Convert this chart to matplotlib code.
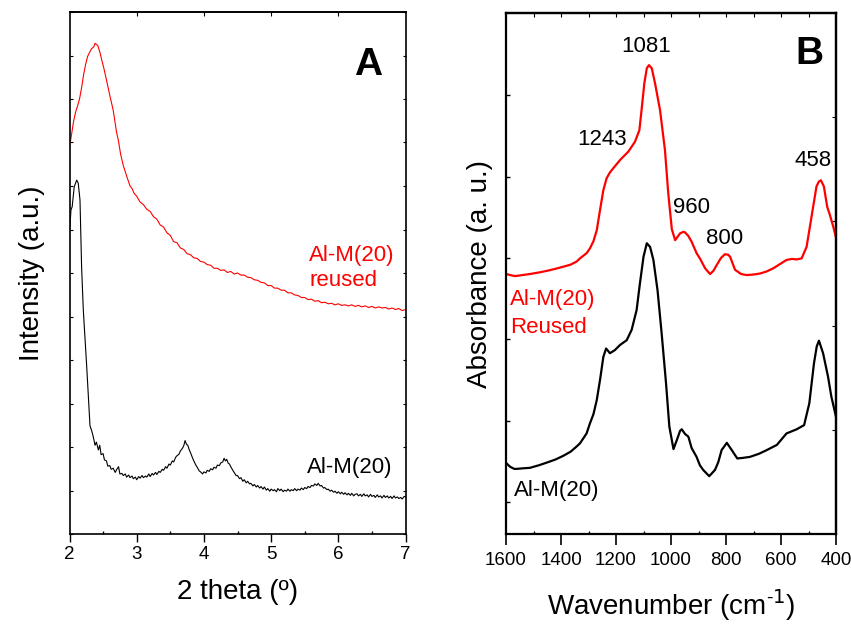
import matplotlib
matplotlib.use("Agg")
import matplotlib.pyplot as plt
from matplotlib.ticker import MultipleLocator, FixedLocator, NullFormatter

plt.rcParams["font.family"] = ["Liberation Sans", "DejaVu Sans"]

# ---- panel A: low-angle XRD (intensity in arbitrary units) ----
xrd_2theta_reused = [2.0, 2.03, 2.06, 2.09, 2.12, 2.15, 2.18, 2.21, 2.24, 2.27, 2.30, 2.33, 2.36,
                     2.38, 2.40, 2.42, 2.45, 2.48, 2.51, 2.55, 2.60, 2.65, 2.70, 2.73, 2.76,
                     2.80, 2.83, 2.86, 2.90, 2.93, 2.96, 3.00, 3.05, 3.10, 3.15, 3.20, 3.25,
                     3.30, 3.35, 3.40, 3.45, 3.50, 3.55, 3.60, 3.65, 3.70, 3.75, 3.80, 3.85,
                     3.90, 3.95, 4.00, 4.05, 4.10, 4.15, 4.20, 4.25, 4.30, 4.35, 4.40, 4.45,
                     4.50, 4.55, 4.60, 4.65, 4.70, 4.75, 4.80, 4.85, 4.90, 4.95, 5.00, 5.05,
                     5.10, 5.15, 5.20, 5.25, 5.30, 5.35, 5.40, 5.45, 5.50, 5.55, 5.60, 5.65,
                     5.70, 5.75, 5.80, 5.85, 5.90, 5.95, 6.00, 6.05, 6.10, 6.15, 6.20, 6.25,
                     6.30, 6.35, 6.40, 6.45, 6.50, 6.55, 6.60, 6.65, 6.70, 6.75, 6.80, 6.85,
                     6.90, 6.95, 7.00]
xrd_int_reused = [74.1, 76.5, 79.0, 80.8, 82.0, 83.4, 85.5, 88.0, 90.0, 91.5, 92.3, 93.0, 93.3,
                  94.0, 93.8, 93.6, 92.4, 90.8, 89.3, 87.0, 84.0, 81.2, 77.0, 75.2, 72.8,
                  70.6, 69.4, 68.2, 66.7, 66.2, 65.3, 64.7, 63.6, 63.1, 62.2, 61.8, 60.8,
                  60.3, 59.2, 58.8, 57.7, 57.2, 56.0, 55.8, 54.8, 54.5, 53.7, 53.5, 52.9,
                  52.8, 52.2, 52.1, 51.6, 51.5, 50.9, 50.9, 50.5, 50.6, 50.1, 50.3, 49.8,
                  50.0, 49.6, 49.6, 49.2, 49.1, 48.7, 48.6, 48.2, 48.1, 47.6, 47.6, 47.1,
                  47.1, 46.7, 46.7, 46.2, 46.2, 45.8, 45.7, 45.3, 45.3, 44.9, 45.0, 44.6,
                  44.7, 44.3, 44.4, 44.1, 44.2, 43.9, 44.1, 43.8, 43.9, 43.7, 43.9, 43.6,
                  43.8, 43.5, 43.7, 43.4, 43.6, 43.3, 43.5, 43.3, 43.4, 43.1, 43.3, 43.0,
                  43.2, 42.8, 43.0]

xrd_2theta_fresh = [2.0, 2.022, 2.04, 2.07, 2.107, 2.13, 2.156, 2.18, 2.205, 2.256, 2.305, 2.33,
                    2.354, 2.38, 2.40, 2.43, 2.45, 2.47, 2.50, 2.52, 2.55, 2.57, 2.60, 2.62,
                    2.65, 2.68, 2.70, 2.73, 2.75, 2.78, 2.80, 2.83, 2.85, 2.88, 2.90, 2.93,
                    2.95, 2.98, 3.00, 3.03, 3.05, 3.08, 3.10, 3.13, 3.15, 3.18, 3.20, 3.23,
                    3.25, 3.28, 3.30, 3.33, 3.35, 3.38, 3.40, 3.43, 3.45, 3.48, 3.50, 3.53,
                    3.55, 3.58, 3.60, 3.63, 3.65, 3.68, 3.70, 3.72, 3.74, 3.76, 3.78, 3.80,
                    3.83, 3.85, 3.88, 3.90, 3.93, 3.95, 3.98, 4.00, 4.03, 4.05, 4.08, 4.10,
                    4.13, 4.15, 4.18, 4.20, 4.23, 4.25, 4.28, 4.30, 4.32, 4.34, 4.36, 4.38,
                    4.40, 4.43, 4.45, 4.48, 4.50, 4.53, 4.55, 4.58, 4.60, 4.63, 4.65, 4.68,
                    4.70, 4.73, 4.75, 4.78, 4.80, 4.83, 4.85, 4.88, 4.90, 4.93, 4.95, 4.98,
                    5.00, 5.03, 5.05, 5.08, 5.10, 5.13, 5.15, 5.18, 5.20, 5.23, 5.25, 5.28,
                    5.30, 5.33, 5.35, 5.38, 5.40, 5.43, 5.45, 5.48, 5.50, 5.53, 5.55, 5.58,
                    5.60, 5.63, 5.65, 5.68, 5.70, 5.73, 5.75, 5.78, 5.80, 5.83, 5.85, 5.88,
                    5.90, 5.93, 5.95, 5.98, 6.00, 6.03, 6.05, 6.08, 6.10, 6.13, 6.15, 6.18,
                    6.20, 6.23, 6.25, 6.28, 6.30, 6.33, 6.35, 6.38, 6.40, 6.43, 6.45, 6.48,
                    6.50, 6.53, 6.55, 6.58, 6.60, 6.63, 6.65, 6.68, 6.70, 6.73, 6.75, 6.78,
                    6.80, 6.83, 6.85, 6.88, 6.90, 6.93, 6.95, 6.98, 7.00]
xrd_int_fresh = [57.7, 62.1, 62.7, 66.5, 67.8, 67.2, 64.0, 51.2, 43.0, 32.1, 20.7, 19.8,
                 18.6, 17.0, 17.6, 16.1, 17.0, 15.2, 15.4, 14.2, 14.0, 13.0, 13.1, 12.4,
                 12.6, 11.8, 12.3, 12.9, 11.5, 11.6, 11.2, 11.5, 10.9, 11.3, 10.8, 11.1,
                 10.6, 10.9, 10.4, 11.0, 10.7, 11.2, 10.8, 11.1, 10.9, 11.5, 11.0, 11.6,
                 11.3, 11.8, 11.4, 12.0, 11.8, 12.4, 12.2, 12.9, 12.6, 13.4, 13.2, 14.0,
                 13.8, 14.7, 15.0, 15.3, 15.9, 16.4, 16.9, 17.9, 17.2, 17.0, 16.2, 15.6,
                 14.6, 14.0, 13.2, 12.8, 12.1, 11.9, 11.5, 11.9, 11.7, 12.2, 12.0, 12.5,
                 12.3, 12.8, 12.6, 13.2, 13.1, 13.6, 13.8, 14.5, 14.0, 14.3, 13.6, 13.4,
                 12.9, 12.2, 11.8, 11.2, 11.2, 10.6, 10.8, 10.1, 10.4, 9.8, 10.1, 9.6,
                 9.7, 9.2, 9.5, 9.0, 9.3, 8.8, 9.1, 8.6, 9.0, 8.4, 8.7, 8.2,
                 8.6, 8.3, 8.5, 8.1, 8.7, 8.3, 8.6, 8.1, 8.4, 8.2, 8.6, 8.2,
                 8.5, 8.3, 8.7, 8.3, 8.6, 8.4, 8.8, 8.5, 8.9, 8.7, 9.1, 8.9,
                 9.3, 9.2, 9.6, 9.3, 9.7, 9.2, 9.3, 8.8, 8.9, 8.5, 8.6, 8.2,
                 8.4, 8.0, 8.2, 7.8, 8.1, 7.7, 8.0, 7.6, 7.9, 7.5, 7.8, 7.4,
                 7.8, 7.3, 7.6, 7.7, 7.3, 7.6, 7.2, 7.7, 7.3, 7.5, 7.1, 7.6,
                 7.2, 7.4, 7.0, 7.5, 7.1, 7.3, 6.9, 7.4, 7.0, 7.3, 6.9, 7.2,
                 6.8, 7.3, 6.9, 7.1, 6.8, 7.0, 6.7, 7.2, 7.1]

# ---- panel B: FTIR (absorbance in arbitrary units) ----
ir_wn_reused = [1599, 1585, 1567, 1540, 1513, 1480, 1452, 1420, 1392, 1365, 1343, 1331,
                1307, 1295, 1282, 1270, 1258, 1246, 1234, 1222, 1210, 1185, 1155, 1131,
                1115, 1107, 1097, 1088, 1080, 1070, 1058, 1040, 1022, 1010, 997, 985,
                967, 955, 949, 937, 925, 907, 895, 876, 858, 846, 834, 818,
                804, 792, 785, 767, 745, 725, 700, 676, 652, 628, 604, 580,
                560, 543, 525, 507, 489, 471, 463, 455, 444, 432, 422, 410, 400]
ir_abs_reused = [49.9, 49.7, 49.5, 49.7, 49.9, 50.2, 50.5, 50.9, 51.3, 51.7, 52.3, 52.9,
                 53.9, 54.8, 56.2, 58.3, 62.2, 66.0, 68.3, 69.4, 70.2, 71.8, 73.4, 75.3,
                 77.5, 81.4, 86.5, 89.4, 90.0, 89.4, 86.5, 81.4, 73.7, 65.4, 58.5, 56.4,
                 57.7, 58.0, 57.9, 57.2, 56.1, 53.9, 52.9, 51.0, 49.9, 50.5, 51.6, 53.0,
                 53.7, 53.6, 53.2, 50.7, 49.9, 49.7, 49.8, 50.0, 50.4, 51.0, 51.8, 52.6,
                 52.8, 52.7, 52.9, 55.1, 60.9, 66.7, 67.6, 67.9, 66.7, 62.8, 61.2, 59.0, 56.9]

ir_wn_fresh = [1599, 1585, 1570, 1561, 1540, 1513, 1480, 1452, 1420, 1392, 1365, 1343,
               1331, 1307, 1295, 1282, 1270, 1258, 1246, 1236, 1222, 1204, 1185, 1161,
               1143, 1125, 1113, 1100, 1088, 1076, 1064, 1049, 1034, 1018, 1006, 991,
               979, 967, 961, 949, 937, 925, 907, 895, 883, 861, 840, 828,
               816, 797, 779, 759, 740, 713, 680, 652, 615, 580, 543, 516,
               497, 480, 470, 462, 447, 429, 417, 400]
ir_abs_fresh = [13.6, 12.9, 12.5, 12.5, 12.6, 12.7, 13.2, 13.7, 14.3, 15.0, 15.8, 16.8,
                17.4, 19.3, 21.2, 23.0, 25.7, 29.6, 34.0, 35.6, 34.7, 35.3, 36.3, 37.2,
                39.2, 43.0, 48.1, 53.2, 55.8, 55.1, 52.6, 46.8, 38.5, 28.9, 20.6, 16.3,
                18.0, 19.8, 20.1, 19.2, 18.7, 16.5, 14.8, 13.2, 12.3, 11.1, 12.3, 13.8,
                16.1, 17.5, 16.1, 14.5, 14.6, 14.8, 15.4, 16.1, 17.1, 19.3, 20.1, 20.9,
                25.1, 32.8, 36.0, 37.1, 34.7, 30.2, 26.4, 22.5]

xrd_ticks = [2, 3, 4, 5, 6, 7]
ir_ticks = [1600, 1400, 1200, 1000, 800, 600, 400]
ir_peaks = ["1081", "1243", "960", "800", "458"]

W, H = 851, 629
fig = plt.figure(figsize=(W / 100, H / 100), dpi=100)

tick_fs = 13.5
lab_fs = 20
ann_fs = 16

# ---------------- panel A ----------------
axA = fig.add_axes([69.5 / W, 95 / H, 336 / W, 522 / H])
axA.plot(xrd_2theta_reused, xrd_int_reused, color="red", lw=0.8)
axA.plot(xrd_2theta_fresh, xrd_int_fresh, color="black", lw=0.8)
axA.set_xlim(2, 7)
axA.set_ylim(0, 100)
axA.set_xticks(xrd_ticks)
axA.xaxis.set_minor_locator(MultipleLocator(0.5))
axA.tick_params(axis="x", which="major", direction="out", length=5.5, width=1, labelsize=tick_fs, pad=3)
axA.tick_params(axis="x", which="minor", direction="in", length=2, width=1)
axA.yaxis.set_major_locator(MultipleLocator(100 / 12))
axA.yaxis.set_major_formatter(NullFormatter())
axA.tick_params(axis="y", which="major", direction="in", length=2, width=0.8, left=True, right=True)
topA = axA.secondary_xaxis("top")
topA.set_xticks(xrd_ticks[1:-1])
topA.tick_params(direction="in", length=3, labeltop=False)
for s in axA.spines.values():
    s.set_linewidth(1.2)
topA.spines["top"].set_linewidth(1.2)
axA.set_xlabel("2 theta (º)", fontsize=lab_fs, labelpad=12)
axA.set_ylabel("Intensity (a.u.)", fontsize=lab_fs, labelpad=14)
axA.text(6.45, 88, "A", fontsize=28, fontweight="bold", ha="center", va="baseline")
axA.text(5.57, 47.5, "Al-M(20)\nreused", color="red", fontsize=ann_fs, ha="left", va="baseline",
         linespacing=1.27)
axA.text(5.53, 11.7, "Al-M(20)", color="black", fontsize=ann_fs, ha="left", va="baseline")

# ---------------- panel B ----------------
axB = fig.add_axes([506 / W, 95 / H, 330 / W, 521 / H])
axB.plot(ir_wn_reused, ir_abs_reused, color="red", lw=1.6)
axB.plot(ir_wn_fresh, ir_abs_fresh, color="black", lw=1.6)
axB.set_xlim(1600, 400)
axB.set_ylim(0, 100)
axB.set_xticks(ir_ticks)
axB.xaxis.set_minor_locator(MultipleLocator(100))
axB.tick_params(axis="x", which="major", direction="out", length=8, width=1.2, labelsize=tick_fs, pad=5)
axB.tick_params(axis="x", which="minor", direction="in", length=2, width=1)
axB.yaxis.set_major_locator(FixedLocator([6.1, 21.7, 37.4, 53.0, 68.5, 84.3]))
axB.yaxis.set_major_formatter(NullFormatter())
axB.tick_params(axis="y", direction="in", length=3, width=1, right=False)
topB = axB.secondary_xaxis("top")
topB.set_xticks(list(range(1500, 400, -100)))
topB.tick_params(direction="in", length=3, labeltop=False)
rightB = axB.secondary_yaxis("right")
rightB.set_yticks([20, 40, 60, 80])
rightB.tick_params(direction="in", length=3, labelright=False)
for s in axB.spines.values():
    s.set_linewidth(1.6)
topB.spines["top"].set_linewidth(1.6)
rightB.spines["right"].set_linewidth(1.6)
axB.set_xlabel("Wavenumber (cm$^{\\mathregular{\u2010}1}$)", fontsize=lab_fs, labelpad=13)
axB.set_ylabel("Absorbance (a. u.)", fontsize=lab_fs, labelpad=6)
axB.text(495, 90.2, "B", fontsize=28, fontweight="bold", ha="center", va="baseline")
axB.text(1090, 92.5, ir_peaks[0], fontsize=ann_fs, ha="center", va="baseline")
axB.text(1251, 74.7, ir_peaks[1], fontsize=ann_fs, ha="center", va="baseline")
axB.text(926, 61.6, ir_peaks[2], fontsize=ann_fs, ha="center", va="baseline")
axB.text(806, 55.7, ir_peaks[3], fontsize=ann_fs, ha="center", va="baseline")
axB.text(482, 70.7, ir_peaks[4], fontsize=ann_fs, ha="center", va="baseline")
axB.text(1585, 38.6, "Al-M(20)\nReused", color="red", fontsize=ann_fs, ha="left", va="baseline",
         linespacing=1.4)
axB.text(1570, 7.3, "Al-M(20)", color="black", fontsize=ann_fs, ha="left", va="baseline")

fig.savefig("out.png", dpi=100)
